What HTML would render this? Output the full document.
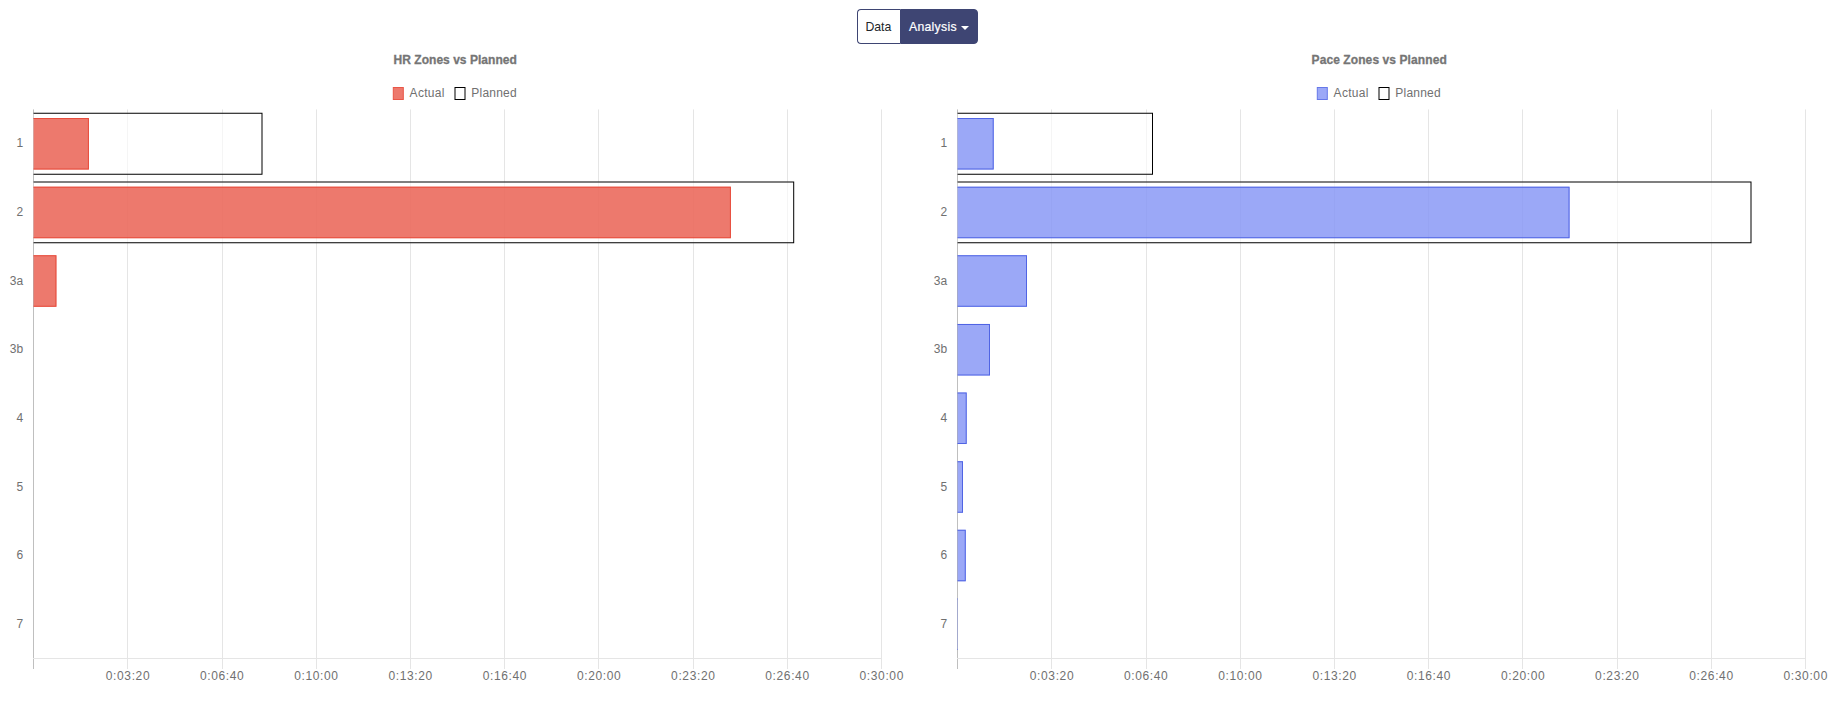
<!DOCTYPE html>
<html lang="en">
<head>
<meta charset="utf-8">
<title>Analysis</title>
<style>
html,body{margin:0;padding:0;background:#fff;}
body{width:1834px;height:708px;position:relative;overflow:hidden;font-family:"Liberation Sans",Arial,sans-serif;}
.btn-group{position:absolute;left:857px;top:9px;width:121px;height:35px;display:flex;box-sizing:border-box;}
.btn{box-sizing:border-box;height:35px;border:1px solid #3e4573;font-size:12.25px;line-height:31px;padding-top:2px;white-space:nowrap;}
.btn-data{width:43px;background:#fff;color:#212529;border-radius:4px 0 0 4px;padding-left:7.4px;border-right:none;}
.btn-analysis{width:78px;background:#3e4573;color:#fff;border-radius:0 4px 4px 0;padding-left:8px;position:relative;letter-spacing:0.27px;-webkit-text-stroke:0.2px #fff;}
.caret{position:absolute;left:60.2px;top:16px;width:0;height:0;border-left:4px solid transparent;border-right:4px solid transparent;border-top:4px solid #fff;}
svg{position:absolute;left:0;top:0;}
.t{font-family:"Liberation Sans",Arial,sans-serif;font-size:12px;fill:#707070;}
.ttl{font-weight:bold;fill:#757575;stroke:#757575;stroke-width:0.3px;}
.xl{letter-spacing:0.62px;}
.lg1{letter-spacing:0.3px;}
.lg2{letter-spacing:0.22px;}
</style>
</head>
<body>
<div class="btn-group" role="group">
<div class="btn btn-data">Data</div>
<div class="btn btn-analysis">Analysis<span class="caret"></span></div>
</div>
<svg width="1834" height="708" viewBox="0 0 1834 708">
<g id="hr-chart">
<rect x="33" y="109.4" width="1" height="548.6" fill="rgba(0,0,0,0.25)"/><rect x="33" y="659" width="1" height="10" fill="rgba(0,0,0,0.25)"/>
<rect x="127" y="109.4" width="1" height="548.6" fill="rgba(0,0,0,0.1)"/><rect x="127" y="659" width="1" height="10" fill="rgba(0,0,0,0.1)"/>
<rect x="222" y="109.4" width="1" height="548.6" fill="rgba(0,0,0,0.1)"/><rect x="222" y="659" width="1" height="10" fill="rgba(0,0,0,0.1)"/>
<rect x="316" y="109.4" width="1" height="548.6" fill="rgba(0,0,0,0.1)"/><rect x="316" y="659" width="1" height="10" fill="rgba(0,0,0,0.1)"/>
<rect x="410" y="109.4" width="1" height="548.6" fill="rgba(0,0,0,0.1)"/><rect x="410" y="659" width="1" height="10" fill="rgba(0,0,0,0.1)"/>
<rect x="504" y="109.4" width="1" height="548.6" fill="rgba(0,0,0,0.1)"/><rect x="504" y="659" width="1" height="10" fill="rgba(0,0,0,0.1)"/>
<rect x="598" y="109.4" width="1" height="548.6" fill="rgba(0,0,0,0.1)"/><rect x="598" y="659" width="1" height="10" fill="rgba(0,0,0,0.1)"/>
<rect x="693" y="109.4" width="1" height="548.6" fill="rgba(0,0,0,0.1)"/><rect x="693" y="659" width="1" height="10" fill="rgba(0,0,0,0.1)"/>
<rect x="787" y="109.4" width="1" height="548.6" fill="rgba(0,0,0,0.1)"/><rect x="787" y="659" width="1" height="10" fill="rgba(0,0,0,0.1)"/>
<rect x="881" y="109.4" width="1" height="548.6" fill="rgba(0,0,0,0.1)"/><rect x="881" y="659" width="1" height="10" fill="rgba(0,0,0,0.1)"/>
<rect x="33" y="658" width="849" height="1" fill="rgba(0,0,0,0.1)"/>
<rect x="33.55" y="112.87" width="228.95" height="61.77" fill="rgba(255,255,255,0.6)"/>
<path d="M33.55 112.87H262.5V174.64H33.55V173.64H261.5V113.87H33.55Z" fill="#000"/>
<rect x="33.55" y="181.5" width="760.65" height="61.77" fill="rgba(255,255,255,0.6)"/>
<path d="M33.55 181.5H794.2V243.27H33.55V242.27H793.2V182.5H33.55Z" fill="#000"/>
<rect x="33.55" y="118.02" width="55.35" height="51.47" fill="rgba(231,76,60,0.75)"/>
<path d="M33.55 118.02H88.9V169.49H33.55V168.49H87.9V119.02H33.55Z" fill="rgba(231,76,60,1)"/>
<rect x="33.55" y="186.65" width="697.35" height="51.47" fill="rgba(231,76,60,0.75)"/>
<path d="M33.55 186.65H730.9V238.13H33.55V237.13H729.9V187.65H33.55Z" fill="rgba(231,76,60,1)"/>
<rect x="33.55" y="255.28" width="22.85" height="51.47" fill="rgba(231,76,60,0.75)"/>
<path d="M33.55 255.28H56.4V306.76H33.55V305.76H55.4V256.28H33.55Z" fill="rgba(231,76,60,1)"/>
<text x="23.2" y="147" text-anchor="end" class="t">1</text>
<text x="23.2" y="216" text-anchor="end" class="t">2</text>
<text x="23.2" y="285" text-anchor="end" class="t">3a</text>
<text x="23.2" y="353" text-anchor="end" class="t">3b</text>
<text x="23.2" y="422" text-anchor="end" class="t">4</text>
<text x="23.2" y="491" text-anchor="end" class="t">5</text>
<text x="23.2" y="559" text-anchor="end" class="t">6</text>
<text x="23.2" y="628" text-anchor="end" class="t">7</text>
<text x="128.02" y="679.7" text-anchor="middle" class="t xl">0:03:20</text>
<text x="222.23" y="679.7" text-anchor="middle" class="t xl">0:06:40</text>
<text x="316.45" y="679.7" text-anchor="middle" class="t xl">0:10:00</text>
<text x="410.67" y="679.7" text-anchor="middle" class="t xl">0:13:20</text>
<text x="504.88" y="679.7" text-anchor="middle" class="t xl">0:16:40</text>
<text x="599.1" y="679.7" text-anchor="middle" class="t xl">0:20:00</text>
<text x="693.32" y="679.7" text-anchor="middle" class="t xl">0:23:20</text>
<text x="787.53" y="679.7" text-anchor="middle" class="t xl">0:26:40</text>
<text x="881.75" y="679.7" text-anchor="middle" class="t xl">0:30:00</text>
<text x="455.2" y="64" text-anchor="middle" class="t ttl" style="letter-spacing:0.03px">HR Zones vs Planned</text>
<rect x="393.3" y="87.5" width="10" height="12" fill="rgba(231,76,60,0.75)" stroke="rgb(233,86,71)" stroke-width="1"/>
<text x="409.6" y="96.8" class="t lg1">Actual</text>
<rect x="455" y="87.5" width="10" height="12" fill="rgba(255,255,255,0.6)" stroke="#000" stroke-width="1"/>
<text x="471.3" y="96.8" class="t lg2">Planned</text>
</g>
<g id="pace-chart">
<rect x="957" y="109.4" width="1" height="548.6" fill="rgba(0,0,0,0.25)"/><rect x="957" y="659" width="1" height="10" fill="rgba(0,0,0,0.25)"/>
<rect x="1051" y="109.4" width="1" height="548.6" fill="rgba(0,0,0,0.1)"/><rect x="1051" y="659" width="1" height="10" fill="rgba(0,0,0,0.1)"/>
<rect x="1146" y="109.4" width="1" height="548.6" fill="rgba(0,0,0,0.1)"/><rect x="1146" y="659" width="1" height="10" fill="rgba(0,0,0,0.1)"/>
<rect x="1240" y="109.4" width="1" height="548.6" fill="rgba(0,0,0,0.1)"/><rect x="1240" y="659" width="1" height="10" fill="rgba(0,0,0,0.1)"/>
<rect x="1334" y="109.4" width="1" height="548.6" fill="rgba(0,0,0,0.1)"/><rect x="1334" y="659" width="1" height="10" fill="rgba(0,0,0,0.1)"/>
<rect x="1428" y="109.4" width="1" height="548.6" fill="rgba(0,0,0,0.1)"/><rect x="1428" y="659" width="1" height="10" fill="rgba(0,0,0,0.1)"/>
<rect x="1522" y="109.4" width="1" height="548.6" fill="rgba(0,0,0,0.1)"/><rect x="1522" y="659" width="1" height="10" fill="rgba(0,0,0,0.1)"/>
<rect x="1617" y="109.4" width="1" height="548.6" fill="rgba(0,0,0,0.1)"/><rect x="1617" y="659" width="1" height="10" fill="rgba(0,0,0,0.1)"/>
<rect x="1711" y="109.4" width="1" height="548.6" fill="rgba(0,0,0,0.1)"/><rect x="1711" y="659" width="1" height="10" fill="rgba(0,0,0,0.1)"/>
<rect x="1805" y="109.4" width="1" height="548.6" fill="rgba(0,0,0,0.1)"/><rect x="1805" y="659" width="1" height="10" fill="rgba(0,0,0,0.1)"/>
<rect x="957" y="658" width="849" height="1" fill="rgba(0,0,0,0.1)"/>
<rect x="957.55" y="112.87" width="195.45" height="61.77" fill="rgba(255,255,255,0.6)"/>
<path d="M957.55 112.87H1153V174.64H957.55V173.64H1152V113.87H957.55Z" fill="#000"/>
<rect x="957.55" y="181.5" width="793.95" height="61.77" fill="rgba(255,255,255,0.6)"/>
<path d="M957.55 181.5H1751.5V243.27H957.55V242.27H1750.5V182.5H957.55Z" fill="#000"/>
<rect x="957.55" y="118.02" width="36.15" height="51.47" fill="rgba(88,110,242,0.6)"/>
<path d="M957.55 118.02H993.7V169.49H957.55V168.49H992.7V119.02H957.55Z" fill="rgb(80,100,228)"/>
<rect x="957.55" y="186.65" width="612" height="51.47" fill="rgba(88,110,242,0.6)"/>
<path d="M957.55 186.65H1569.55V238.13H957.55V237.13H1568.55V187.65H957.55Z" fill="rgb(80,100,228)"/>
<rect x="957.55" y="255.28" width="69.45" height="51.47" fill="rgba(88,110,242,0.6)"/>
<path d="M957.55 255.28H1027V306.76H957.55V305.76H1026V256.28H957.55Z" fill="rgb(80,100,228)"/>
<rect x="957.55" y="323.92" width="32.45" height="51.47" fill="rgba(88,110,242,0.6)"/>
<path d="M957.55 323.92H990V375.39H957.55V374.39H989V324.92H957.55Z" fill="rgb(80,100,228)"/>
<rect x="957.55" y="392.55" width="9.15" height="51.47" fill="rgba(88,110,242,0.6)"/>
<path d="M957.55 392.55H966.7V444.02H957.55V443.02H965.7V393.55H957.55Z" fill="rgb(80,100,228)"/>
<rect x="957.55" y="461.18" width="5.45" height="51.47" fill="rgba(88,110,242,0.6)"/>
<path d="M957.55 461.18H963V512.66H957.55V511.66H962V462.18H957.55Z" fill="rgb(80,100,228)"/>
<rect x="957.55" y="529.81" width="8.2" height="51.47" fill="rgba(88,110,242,0.6)"/>
<path d="M957.55 529.81H965.75V581.29H957.55V580.29H964.75V530.81H957.55Z" fill="rgb(80,100,228)"/>
<rect x="957.55" y="598.45" width="0.45" height="51.47" fill="rgba(88,110,242,0.6)"/>
<rect x="957.55" y="598.45" width="0.45" height="1" fill="rgb(80,100,228)"/><rect x="957.55" y="648.92" width="0.45" height="1" fill="rgb(80,100,228)"/>
<text x="947.2" y="147" text-anchor="end" class="t">1</text>
<text x="947.2" y="216" text-anchor="end" class="t">2</text>
<text x="947.2" y="285" text-anchor="end" class="t">3a</text>
<text x="947.2" y="353" text-anchor="end" class="t">3b</text>
<text x="947.2" y="422" text-anchor="end" class="t">4</text>
<text x="947.2" y="491" text-anchor="end" class="t">5</text>
<text x="947.2" y="559" text-anchor="end" class="t">6</text>
<text x="947.2" y="628" text-anchor="end" class="t">7</text>
<text x="1052.02" y="679.7" text-anchor="middle" class="t xl">0:03:20</text>
<text x="1146.23" y="679.7" text-anchor="middle" class="t xl">0:06:40</text>
<text x="1240.45" y="679.7" text-anchor="middle" class="t xl">0:10:00</text>
<text x="1334.67" y="679.7" text-anchor="middle" class="t xl">0:13:20</text>
<text x="1428.88" y="679.7" text-anchor="middle" class="t xl">0:16:40</text>
<text x="1523.1" y="679.7" text-anchor="middle" class="t xl">0:20:00</text>
<text x="1617.32" y="679.7" text-anchor="middle" class="t xl">0:23:20</text>
<text x="1711.53" y="679.7" text-anchor="middle" class="t xl">0:26:40</text>
<text x="1805.75" y="679.7" text-anchor="middle" class="t xl">0:30:00</text>
<text x="1379.2" y="64" text-anchor="middle" class="t ttl" style="letter-spacing:0.09px">Pace Zones vs Planned</text>
<rect x="1317.3" y="87.5" width="10" height="12" fill="rgba(88,110,242,0.6)" stroke="rgb(102,120,233)" stroke-width="1"/>
<text x="1333.6" y="96.8" class="t lg1">Actual</text>
<rect x="1379" y="87.5" width="10" height="12" fill="rgba(255,255,255,0.6)" stroke="#000" stroke-width="1"/>
<text x="1395.3" y="96.8" class="t lg2">Planned</text>
</g>
</svg>
</body>
</html>
